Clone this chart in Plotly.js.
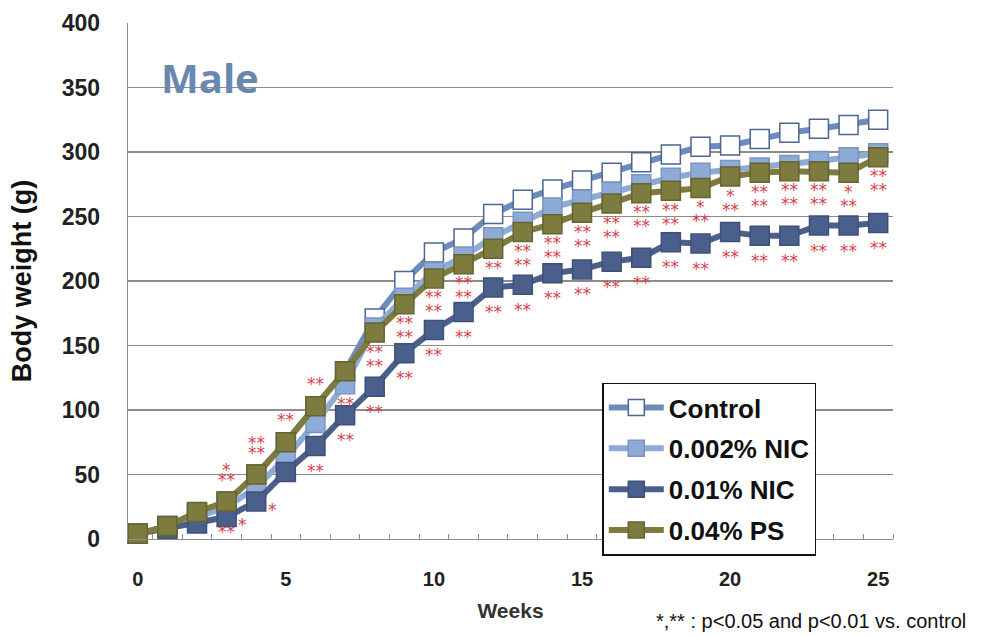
<!DOCTYPE html>
<html>
<head>
<meta charset="utf-8">
<script src="https://cdn.plot.ly/plotly-3.0.1.min.js"></script>
<style>html,body{margin:0;padding:0;background:#fff;}#chart{width:981px;height:636px;}</style>
</head>
<body>
<div id="chart"></div>
<script>
// ---- data ----
const weeks = [0,1,2,3,4,5,6,7,8,9,10,11,12,13,14,15,16,17,18,19,20,21,22,23,24,25];
const seriesNames = ['Control', '0.002% NIC', '0.01% NIC', '0.04% PS'];
const control = [4,10,20,29,50,75,103,130,171,200,222,233,252,263,271,278,284,292,298,304,305,310,315,318,321,325];
const nicLow  = [4,9,17,25,40,63,90,120,164,187,207,219,234,246,257,263,269,275,280,284,286,288,290,293,296,299];
const nicHigh = [4,8,12,17,29,52,72,96,118,144,162,176,195,197,206,209,215,218,230,229,238,235,235,243,243,245];
const ps      = [4,10,21,29,50,75,103,130,160,182,202,213,225,238,244,253,260,268,270,272,281,284,285,285,284,296];
// significance marks vs control (per week)
const sigRow1  = ['','','','*','**','','','','**','**','**','**','**','**','**','**','**','**','**','*','*','**','**','**','*','**'];
const sigRow2  = ['','','','**','**','**','**','**','**','**','**','**','','**','**','**','**','**','**','**','**','**','**','**','**','**'];
const sigHigh  = ['','','','**','','','**','**','**','**','**','**','**','**','**','**','**','**','**','**','**','**','**','**','**','**'];
const sigHighSide = ['','','','*','*','','','','','','','','','','','','','','','','','','','','',''];
const xTicks = [0,5,10,15,20,25];
const yTicks = [0,50,100,150,200,250,300,350,400];

// ---- styles ----
const colors = {
  control: '#6c8cbd', controlEdge: '#4d6590',
  low: '#8eaad6', lowEdge: '#7a95c0',
  high: '#4b5f8d', highEdge: '#3f5179',
  ps: '#7d7b3d', psEdge: '#666530'
};
const redStar = '#d4434e';
const msize = 19;

function trace(name, y, lineColor, fill, edge) {
  return {
    x: weeks, y: y, name: name, legendgroup: name, type: 'scatter', mode: 'lines+markers',
    line: {color: lineColor, width: 6},
    marker: {symbol: 'square', size: msize, color: fill, line: {color: edge, width: 1.5}},
    cliponaxis: false
  };
}
const data = [
  trace(seriesNames[0], control, colors.control, '#ffffff', colors.controlEdge),
  trace(seriesNames[1], nicLow, colors.low, colors.low, colors.lowEdge),
  trace(seriesNames[2], nicHigh, colors.high, colors.high, colors.highEdge),
  trace(seriesNames[3], ps, colors.ps, colors.ps, colors.psEdge)
];

const annotations = [];
function star(x, y, text, xs, ys) {
  if (!text) return;
  annotations.push({x: x, y: y, xref: 'x', yref: 'y', text: text, showarrow: false,
    xshift: xs, yshift: ys, font: {family: 'DejaVu Sans', size: 17, color: redStar}});
}
weeks.forEach((w, i) => {
  const above = w < 7;
  star(w, ps[i], sigRow1[i], 0, above ? 32 : -19);
  star(w, ps[i], sigRow2[i], 0, above ? 22 : -33);
  star(w, nicHigh[i], sigHigh[i], 0, w < 4 ? -15 : -25);
  star(w, nicHigh[i], sigHighSide[i], 16, -8);
});
annotations.push({xref: 'paper', yref: 'paper', x: 0.107, y: 0.895, xanchor: 'center', yanchor: 'middle',
  text: 'Male', showarrow: false,
  font: {family: 'Open Sans', size: 40, color: '#6a87b0', weight: 'bold'}});
annotations.push({xref: 'paper', yref: 'paper', x: 0.688, y: -0.158, xanchor: 'left', yanchor: 'middle',
  text: '*,** : p<0.05 and p<0.01 vs. control', showarrow: false,
  font: {family: 'Liberation Sans, Arial', size: 20, color: '#111'}});

const layout = {
  width: 981, height: 636,
  margin: {l: 128, r: 88, t: 23, b: 97},
  paper_bgcolor: '#fff', plot_bgcolor: '#fff',
  showlegend: true,
  legend: {x: 0.62, y: 0.303, xanchor: 'left', yanchor: 'top', bgcolor: '#fff',
    bordercolor: '#111', borderwidth: 1.5, itemwidth: 55, tracegroupgap: 4,
    font: {family: 'Liberation Sans, Arial', size: 26, color: '#111', weight: 'bold'}},
  xaxis: {
    range: [-0.33, 25.5], tickvals: xTicks, ticktext: xTicks.map(String),
    showgrid: false, zeroline: false, showline: true, linecolor: '#8c8c8c', linewidth: 1.3,
    ticks: '', ticklabelstandoff: 22,
    minor: {tickvals: weeks.map(w => w + 0.5), ticks: 'inside', ticklen: 5, tickcolor: '#8c8c8c', showgrid: false},
    tickfont: {family: 'Liberation Sans, Arial', size: 20, color: '#222', weight: 'bold'},
    title: {text: 'Weeks', standoff: 14, font: {family: 'Liberation Sans, Arial', size: 21, color: '#333', weight: 'bold'}}
  },
  yaxis: {
    range: [0, 400], tickvals: yTicks, ticktext: yTicks.map(String),
    showgrid: true, gridcolor: '#8c8c8c', gridwidth: 1.3, zeroline: false,
    showline: true, linecolor: '#8c8c8c', linewidth: 1.3,
    ticks: '', ticklabelstandoff: 22,
    tickfont: {family: 'Liberation Sans, Arial', size: 23, color: '#222', weight: 'bold'},
    title: {text: 'Body weight (g)', standoff: 22, font: {family: 'Liberation Sans, Arial', size: 27, color: '#111', weight: 'bold'}}
  },
  annotations: annotations
};
Plotly.newPlot('chart', data, layout, {displayModeBar: false, staticPlot: true});
</script>
</body>
</html>
